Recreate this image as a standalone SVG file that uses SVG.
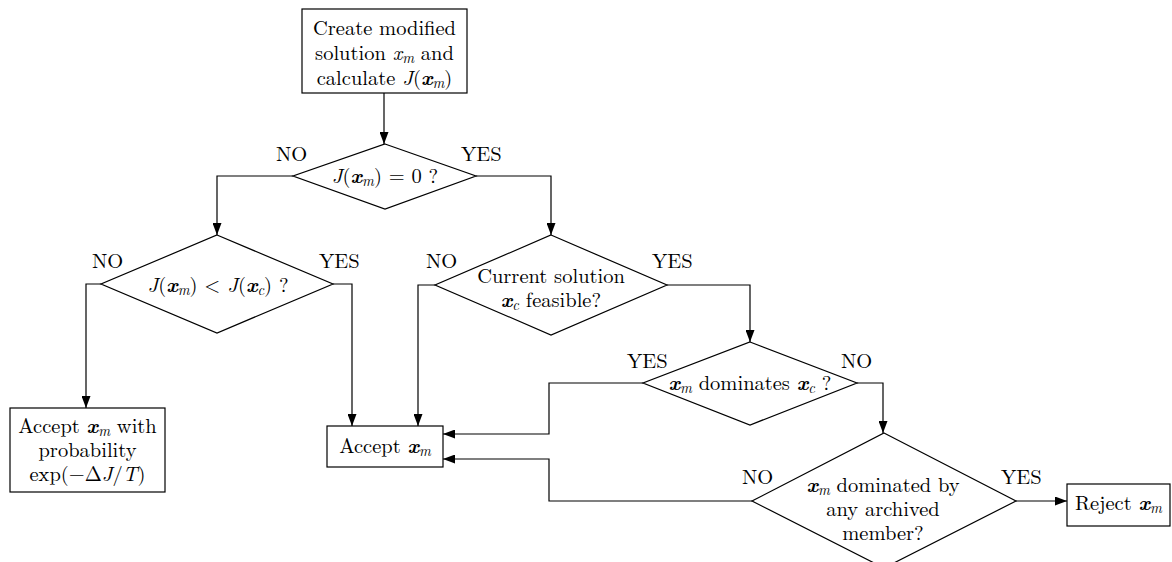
<svg xmlns="http://www.w3.org/2000/svg" width="1172" height="562" viewBox="0 0 1172 562">
  <style>
    .box { fill: #ffffff; stroke: #000000; stroke-width: 1.2; }
    .edge { fill: none; stroke: #000000; stroke-width: 1.2; marker-end: url(#arrow); }
    .c { text-anchor: middle; }
    .it { font-style: italic; }
    .bi { font-style: italic; font-weight: bold; }
    .sub { font-style: italic; font-size: 14.5px; }
  </style>
  <defs>
    <marker id="arrow" viewBox="0 0 12 9" refX="12" refY="4.5" markerWidth="12" markerHeight="9" markerUnits="userSpaceOnUse" orient="auto">
      <path d="M0,0 L12,4.5 L0,9 Z" fill="#000000"/>
    </marker>
  </defs>

  <rect width="1172" height="562" fill="#ffffff"/>

  <!-- connectors -->
  <g id="connectors">
    <path class="edge" d="M384,93 V144"/>
    <path class="edge" d="M293,176 H217 V235"/>
    <path class="edge" d="M476,176 H551 V235"/>
    <path class="edge" d="M101,284 H86 V408"/>
    <path class="edge" d="M333,284 H352 V426"/>
    <path class="edge" d="M435,285 H418 V426"/>
    <path class="edge" d="M667,285 H750 V342"/>
    <path class="edge" d="M643,383 H549 V434 H443"/>
    <path class="edge" d="M857,383 H883 V433"/>
    <path class="edge" d="M752,501 H549 V459 H443"/>
    <path class="edge" d="M1016,501 H1067"/>
  </g>

  <g font-family="'Latin Modern Roman', 'Liberation Serif', serif" font-size="20.5" fill="#000000">
    <!-- branch labels -->
    <g id="labels">
      <text x="276" y="161">NO</text>
      <text x="461" y="161">YES</text>
      <text x="92" y="268">NO</text>
      <text x="319" y="268">YES</text>
      <text x="426" y="268">NO</text>
      <text x="652" y="268">YES</text>
      <text x="627" y="368">YES</text>
      <text x="841" y="368">NO</text>
      <text x="742" y="484">NO</text>
      <text x="1001" y="484">YES</text>
    </g>

    <g id="create">
      <rect class="box" x="302" y="9" width="165" height="84"/>
      <text class="c" x="384.5" y="35">Create modified</text>
      <text class="c" x="384.5" y="60">solution <tspan class="it">x</tspan><tspan class="sub" dy="3">m</tspan><tspan dy="-3"> and</tspan></text>
      <text class="c" x="384.5" y="85">calculate <tspan class="it">J</tspan>(<tspan class="bi">x</tspan><tspan class="sub" dy="3">m</tspan><tspan dy="-3">)</tspan></text>
    </g>

    <g id="check-zero">
      <polygon class="box" points="385,144 476,176 385,209 293,176"/>
      <text class="c" x="385" y="183"><tspan class="it">J</tspan>(<tspan class="bi">x</tspan><tspan class="sub" dy="3">m</tspan><tspan dy="-3">) = 0 ?</tspan></text>
    </g>

    <g id="compare-cost">
      <polygon class="box" points="217,235 333,284 217,333 101,284"/>
      <text class="c" x="218" y="292"><tspan class="it">J</tspan>(<tspan class="bi">x</tspan><tspan class="sub" dy="3">m</tspan><tspan dy="-3">) &lt; </tspan><tspan class="it">J</tspan>(<tspan class="bi">x</tspan><tspan class="sub" dy="3">c</tspan><tspan dy="-3">) ?</tspan></text>
    </g>

    <g id="feasible">
      <polygon class="box" points="551,235 667,285 551,335 435,285"/>
      <text class="c" x="551" y="283">Current solution</text>
      <text class="c" x="551" y="307"><tspan class="bi">x</tspan><tspan class="sub" dy="3">c</tspan><tspan dy="-3"> feasible?</tspan></text>
    </g>

    <g id="dominates">
      <polygon class="box" points="750,342 857,383 750,425 643,383"/>
      <text class="c" x="750" y="390"><tspan class="bi">x</tspan><tspan class="sub" dy="3">m</tspan><tspan dy="-3"> dominates </tspan><tspan class="bi">x</tspan><tspan class="sub" dy="3">c</tspan><tspan dy="-3"> ?</tspan></text>
    </g>

    <g id="dominated">
      <polygon class="box" points="884,433 1016,501 884,568 752,501"/>
      <text class="c" x="883" y="492"><tspan class="bi">x</tspan><tspan class="sub" dy="3">m</tspan><tspan dy="-3"> dominated by</tspan></text>
      <text class="c" x="883" y="516">any archived</text>
      <text class="c" x="883" y="540">member?</text>
    </g>

    <g id="accept-prob">
      <rect class="box" x="10" y="408" width="155" height="84"/>
      <text class="c" x="87.5" y="433">Accept <tspan class="bi">x</tspan><tspan class="sub" dy="3">m</tspan><tspan dy="-3"> with</tspan></text>
      <text class="c" x="87.5" y="457">probability</text>
      <text class="c" x="87.5" y="481">exp(−Δ<tspan class="it">J</tspan>/<tspan class="it">T</tspan>)</text>
    </g>

    <g id="accept">
      <rect class="box" x="327" y="426" width="116" height="41"/>
      <text class="c" x="385" y="453">Accept <tspan class="bi">x</tspan><tspan class="sub" dy="3">m</tspan></text>
    </g>

    <g id="reject">
      <rect class="box" x="1067" y="484" width="103" height="42"/>
      <text x="1075" y="510">Reject <tspan class="bi">x</tspan><tspan class="sub" dy="3">m</tspan></text>
    </g>
  </g>
</svg>
